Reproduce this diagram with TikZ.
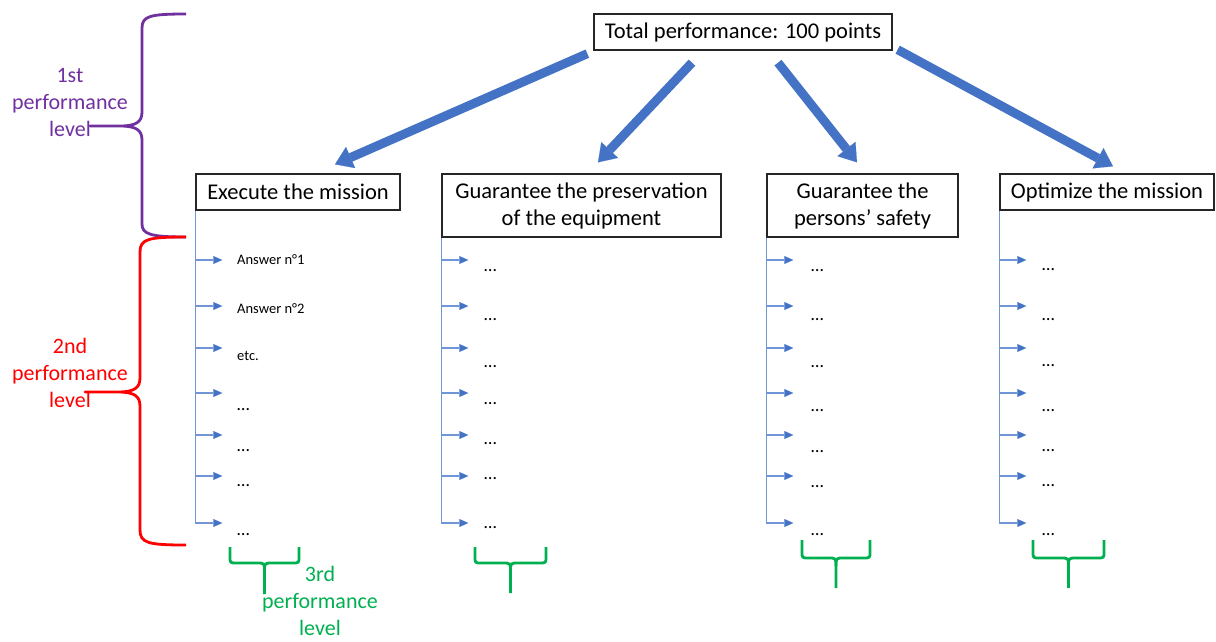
\documentclass[tikz,border=0pt]{standalone}
\usepackage{fontspec}
\setmainfont{Carlito}
\usetikzlibrary{positioning}
\usetikzlibrary{calc}
\usetikzlibrary{arrows.meta}
\definecolor{arrblue}{HTML}{4472C4}
\definecolor{lstblue}{HTML}{7096D8}
\definecolor{lvlone}{HTML}{7030A0}
\definecolor{lvltwo}{HTML}{FF0000}
\definecolor{lvlthree}{HTML}{00B050}
\tikzset{goal/.style={draw=black!85, line width=1.3pt, fill=white, align=center, inner sep=0pt, font=\fontsize{22.5}{27}\selectfont}}
\tikzset{fat/.style={arrblue, line width=9pt, -{Triangle[width=23pt,length=17pt,line width=0.1pt]}}}
\tikzset{stem/.style={lstblue, line width=1.2pt}}
\tikzset{tick/.style={lstblue, line width=1.2pt, -{Triangle[width=8pt,length=9pt,line width=0.1pt,fill=arrblue]}}}
\tikzset{item/.style={anchor=base west, inner sep=0pt, font=\fontsize{14.5}{17}\selectfont}}
\tikzset{more/.style={item, font=\fontsize{18}{20}\selectfont}}
\tikzset{lvl/.style={align=center, inner sep=0pt, font=\fontsize{22}{27}\selectfont}}
\tikzset{brc/.style={line width=2.8pt, line join=round}}
% brace opening upwards: left x, right x, top y, bar y, bottom y
\newcommand\downbrace[5]{%
  \pgfmathsetmacro\bmid{(#1+#2)/2}
  \draw[brc, lvlthree] (#1,#3) -- (#1,#4-6) .. controls (#1,#4) .. (#1+7,#4)
    -- (\bmid-8,#4) .. controls (\bmid,#4) .. (\bmid,#4+8) -- (\bmid,#5);
  \draw[brc, lvlthree] (#2,#3) -- (#2,#4-6) .. controls (#2,#4) .. (#2-7,#4)
    -- (\bmid+8,#4) .. controls (\bmid,#4) .. (\bmid,#4+8);
}
\begin{document}
\begin{tikzpicture}[x=1pt, y=-1pt]
\useasboundingbox (0,0) rectangle (1216,641);

\node[goal, minimum width=298pt, minimum height=36pt] (total) at (743,32) {Total performance: 100 points};

\node[goal, minimum width=204pt, minimum height=36pt] (exec) at (298,192) {Execute the mission};
\node[goal, minimum width=279pt, minimum height=63pt] (pres) at (581.5,205.5) {Guarantee the preservation\\of the equipment};
\node[goal, minimum width=191pt, minimum height=63pt] (pers) at (862.5,205.5) {Guarantee the\\persons’ safety};
\node[goal, minimum width=214pt, minimum height=36pt] (opt) at (1107,192) {Optimize the mission};

\draw[fat] ($(total.south west)+(-6,3)$) -- ($(exec.north)+(37,-9)$);
\draw[fat] ($(total.south)+(-51,12)$) -- ($(pres.north)+(16.5,-11)$);
\draw[fat] ($(total.south)+(35,12)$) -- ($(pers.north)+(-5.5,-11)$);
\draw[fat] ($(total.south east)+(5,-1)$) -- ($(opt.north)+(6,-7)$);

% answer lists
\foreach \c in {exec,pres,pers,opt} {
  \draw[stem] (\c.south west) -- (\c.south west |- 0,523);
  \foreach \y in {260,306,348,393,435,476,523}
    \draw[tick] (\c.south west |- 0,\y) -- ++(27,0);
}

\node[item] (exec-1) at (237,264) {Answer n°1};
\node[item] (exec-2) at (237,313) {Answer n°2};
\node[item] (exec-3) at (237,360) {etc.};
\foreach \y [count=\i from 4] in {410,451,486,535}
  \node[more] (exec-\i) at (237,\y) {…};
\foreach \y [count=\i] in {271,320,367,404,444,479,528}
  \node[more] (pres-\i) at (484,\y) {…};
\foreach \y [count=\i] in {271,320,367,411,452,487,535}
  \node[more] (pers-\i) at (811,\y) {…};
\foreach \y [count=\i] in {270,320,366,411,451,486,535}
  \node[more] (opt-\i) at (1042,\y) {…};

% performance levels
\node[lvl, text=lvlone] (one) at (70,102) {1st\\performance\\level};
\node[lvl, text=lvltwo] (two) at (70,373) {2nd\\performance\\level};
\node[lvl, text=lvlthree] (three) at (320,601) {3rd\\performance\\level};

\draw[brc, lvlone] (186,14) .. controls (150,14) and (142,16) .. (142,28) -- (142,112)
  .. controls (142,122) and (136,126) .. (120,126) -- (90,126) -- (120,126)
  .. controls (136,126) and (142,130) .. (142,140) -- (142,224)
  .. controls (142,234) and (150,237) .. (186,237);
\draw[brc, lvltwo] (186,237) .. controls (148,237) and (140,239) .. (140,252) -- (140,378)
  .. controls (140,388) and (134,392) .. (118,392) -- (85,392) -- (118,392)
  .. controls (134,392) and (140,396) .. (140,406) -- (140,530)
  .. controls (140,543) and (148,545) .. (186,545);

\downbrace{230}{299}{547}{563}{594}
\downbrace{475}{546}{547}{563}{593}
\downbrace{802}{870}{540}{558}{588}
\downbrace{1033}{1104}{540}{558}{588}

\end{tikzpicture}
\end{document}
